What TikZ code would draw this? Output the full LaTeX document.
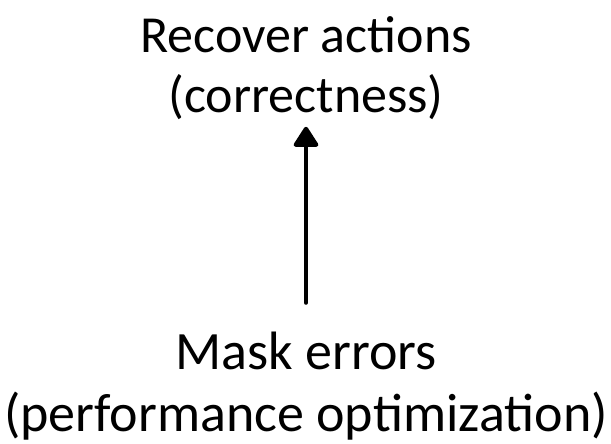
\documentclass[tikz,border=0pt]{standalone}
\usepackage{fontspec}
\setmainfont{Carlito}
\usetikzlibrary{arrows.meta}
\tikzset{
  lbl/.style={align=center, inner sep=0pt},
  toplbl/.style={lbl, font=\fontsize{52}{60}\selectfont},
  botlbl/.style={lbl, font=\fontsize{54}{62}\selectfont},
  conn/.style={line width=4.2pt, line cap=round, -{Triangle[width=27pt,length=22pt,round]}}
}
\begin{document}
\begin{tikzpicture}[x=1pt,y=1pt]
\useasboundingbox (0,0) rectangle (611,444);
\node[toplbl] (top) at (306,376) {Recover actions\\(correctness)};
\node[botlbl] (bot) at (306,58) {Mask errors\\(performance optimization)};
\draw[conn, shorten <=29pt, shorten >=7pt] (bot.north) -- (top.south);
\end{tikzpicture}
\end{document}
